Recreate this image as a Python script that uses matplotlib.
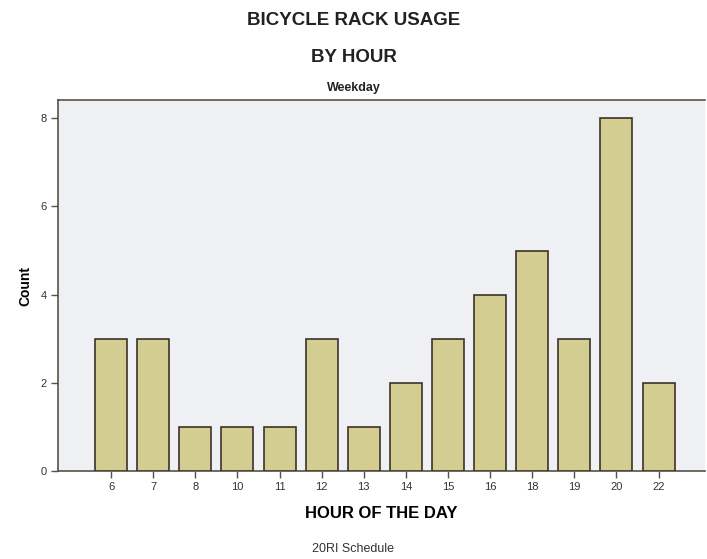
import numpy as np
import matplotlib
matplotlib.use('Agg')
import matplotlib.pyplot as plt

matplotlib.rcParams['font.family'] = ['Liberation Sans', 'DejaVu Sans']

# data
hours = ['6', '7', '8', '10', '11', '12', '13', '14', '15', '16', '18', '19', '20', '22']
counts = [3, 3, 1, 1, 1, 3, 1, 2, 3, 4, 5, 3, 8, 2]
y_ticks = [0, 2, 4, 6, 8]

bar_color = '#d3cd91'
edge_color = '#3a3328'
frame_color = '#5b5048'

fig = plt.figure(figsize=(7.07, 5.59), dpi=100)
ax = fig.add_axes([0.082, 0.157, 0.915, 0.664])
ax.set_facecolor('#eef0f4')

x = np.arange(len(hours))
ax.bar(x, counts, width=0.76, color=bar_color, edgecolor=edge_color, linewidth=1.2, zorder=3)

ax.set_xlim(-1.26, len(hours) - 1 + 1.1)
ax.set_ylim(0, 8.41)
ax.set_xticks(x)
ax.set_xticklabels(hours)
ax.set_yticks(y_ticks)
ax.tick_params(axis='both', direction='out', length=5, width=1, color=frame_color,
               labelsize=8, labelcolor='#333333', pad=3)

for s in ['left', 'top', 'bottom']:
    ax.spines[s].set_color(frame_color)
    ax.spines[s].set_linewidth(1.2)
ax.spines['right'].set_visible(False)

ax.set_ylabel('Count', fontsize=10, fontweight='bold', labelpad=6)
ax.set_xlabel('HOUR OF THE DAY', fontsize=12, fontweight='bold', labelpad=10)

fig.text(0.5, 0.964, 'BICYCLE RACK USAGE', ha='center', va='center', fontsize=13.5, fontweight='bold', color='#222222')
fig.text(0.5, 0.898, 'BY HOUR', ha='center', va='center', fontsize=13.5, fontweight='bold', color='#222222')
fig.text(0.5, 0.843, 'Weekday', ha='center', va='center', fontsize=9, fontweight='bold', color='#222222')
fig.text(0.5, 0.018, '20RI Schedule', ha='center', va='center', fontsize=9, color='#333333')

fig.savefig('out.png', dpi=100)
